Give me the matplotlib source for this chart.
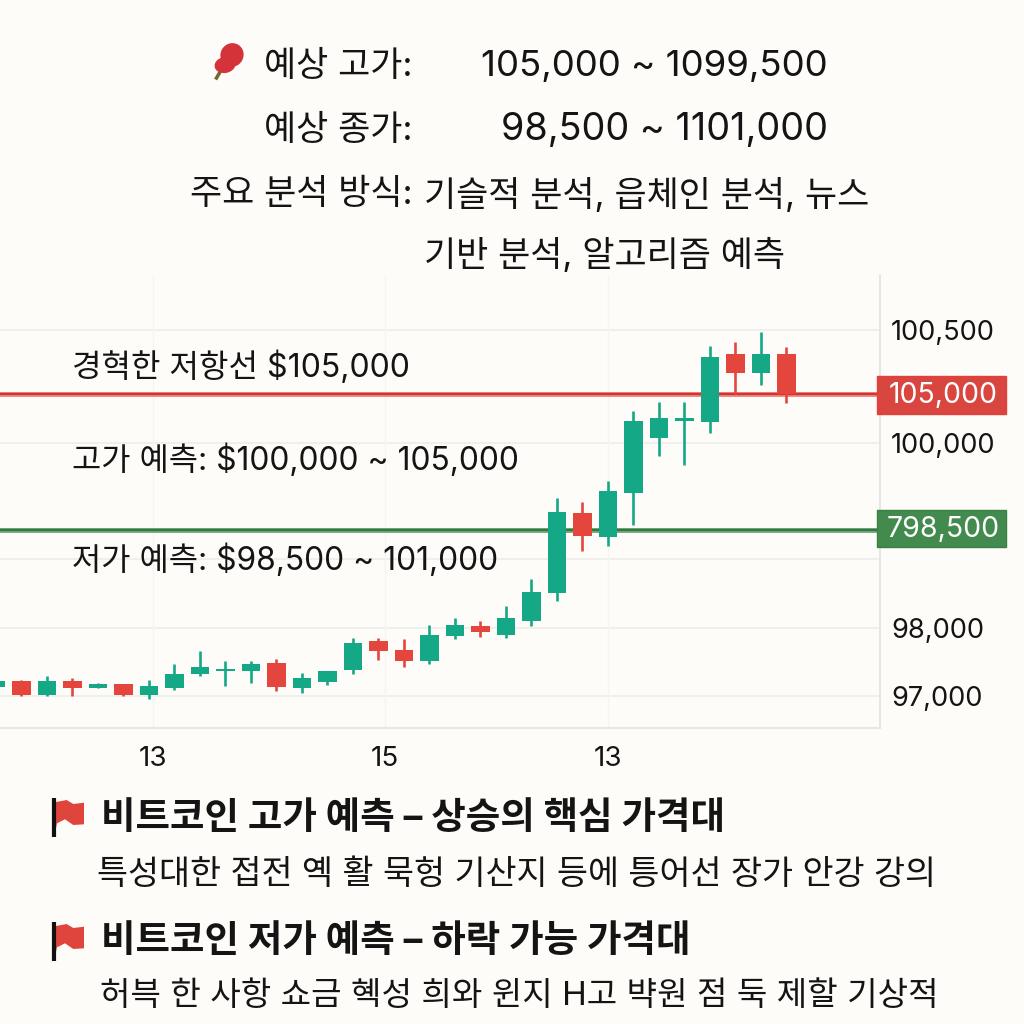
"""Bitcoin forecast card: header text, candlestick chart and two flagged notes."""

import matplotlib

matplotlib.use("Agg")
import matplotlib.pyplot as plt
import numpy as np
from matplotlib.patches import Ellipse, Polygon, Rectangle

plt.rcParams["font.family"] = ["Inter", "Noto Sans CJK KR", "DejaVu Sans"]

# Candles. The price axis of the picture is not linear.
OPEN = [97128, 97221, 97019, 97216, 97122, 97181, 97011, 97122, 97328, 97368, 97363,
        97490, 97118, 97202, 97383, 97804, 97677, 97510, 97882, 98029, 97897, 98101,
        98507, 99397, 99190, 99569, 100022, 100098, 100093, 100394, 100310, 100394]
CLOSE = [97225, 97019, 97221, 97114, 97181, 97019, 97143, 97324, 97422, 97402, 97475,
         97133, 97261, 97363, 97784, 97662, 97515, 97897, 98043, 97941, 98145, 98522,
         99405, 99198, 99586, 100098, 100111, 100111, 100381, 100310, 100394, 100217]
HIGH = [97236, 97236, 97294, 97261, 97187, 97181, 97236, 97471, 97662, 97515, 97519,
        97540, 97334, 97363, 97857, 97853, 97838, 98047, 98145, 98101, 98319, 98710,
        99526, 99491, 99672, 100142, 100182, 100182, 100429, 100447, 100491, 100425]
LOW = [97118, 97005, 97000, 97005, 97118, 97000, 96961, 97093, 97294, 97147, 97191,
       97069, 97040, 97167, 97324, 97530, 97431, 97471, 97838, 97868, 97853, 98029,
       98391, 99069, 99112, 99293, 99888, 99810, 100045, 100217, 100257, 100177]

Y_TICKS = [97000, 98000, 100000, 100500]
Y_TICK_LABELS = ["97,000", "98,000", "100,000", "100,500"]
Y_GRID = [97000, 98000, 99000, 100000, 100500]
X_TICKS = [6.15, 15.25, 24.0]
X_TICK_LABELS = ["13", "15", "13"]

RESISTANCE = 100217
RESISTANCE_LABEL = "105,000"
SUPPORT = 99250
SUPPORT_LABEL = "798,500"

# Where the prices fall on the axis, measured upward from its bottom in pixels.
SCALE_PRICES = [96530, 97000, 98000, 99000, 100000, 100500, 100743]
SCALE_HEIGHTS = [0, 32, 100, 169, 285, 398, 453]

BG = "#fefcf8"
GREEN = "#14a886"
RED = "#e4463e"
GRID = "#eceee9"
INK = "#141414"


def to_height(p):
    return np.interp(p, SCALE_PRICES, SCALE_HEIGHTS)


def to_price(h):
    return np.interp(h, SCALE_HEIGHTS, SCALE_PRICES)


def main():
    fig = plt.figure(figsize=(10.24, 10.24), dpi=100, facecolor=BG)

    ax = fig.add_axes([0, 296 / 1024, 880 / 1024, 453 / 1024], facecolor=BG)
    ax.set_yscale("function", functions=(to_height, to_price))
    ax.set_ylim(SCALE_PRICES[0], SCALE_PRICES[-1])
    ax.set_xlim(0.157, 34.67)

    for v in Y_GRID:
        ax.axhline(v, color=GRID, lw=1.2, zorder=1)
    for v in X_TICKS:
        ax.axvline(v, color="#f6f6f1", lw=1, zorder=1)

    ax.axhline(RESISTANCE, color="#eb8f88", lw=3.6, zorder=2)
    ax.axhline(RESISTANCE, color="#d8322e", lw=1.7, zorder=2)
    ax.axhline(SUPPORT, color="#7fae86", lw=3.6, zorder=2)
    ax.axhline(SUPPORT, color="#2f7a3c", lw=1.7, zorder=2)

    x = np.arange(len(OPEN))
    o, c, hi, lo = map(np.array, (OPEN, CLOSE, HIGH, LOW))
    colors = [GREEN if b >= a else RED for a, b in zip(o, c)]
    ax.vlines(x, lo, hi, colors=colors, lw=1.9, zorder=3)
    ax.bar(x, np.abs(c - o), bottom=np.minimum(o, c), width=0.72, color=colors, zorder=4)

    for side in ("top", "left"):
        ax.spines[side].set_visible(False)
    for side in ("bottom", "right"):
        ax.spines[side].set_color("#e4e7e2")
        ax.spines[side].set_linewidth(1.4)
    ax.set_yticks(Y_TICKS, Y_TICK_LABELS)
    ax.set_xticks(X_TICKS, X_TICK_LABELS)
    ax.yaxis.tick_right()
    ax.tick_params(axis="y", length=0, pad=8, labelsize=19.6, labelcolor=INK)
    ax.tick_params(axis="x", length=0, pad=13, labelsize=20, labelcolor=INK)

    # Everything else is placed in picture pixels on a full-figure overlay.
    over = fig.add_axes([0, 0, 1, 1], facecolor="none")
    over.set_xlim(0, 1024)
    over.set_ylim(1024, 0)
    over.axis("off")

    def text(px, py, s, size, **kw):
        kw.setdefault("color", INK)
        kw.setdefault("va", "center")
        over.text(px, py, s, fontsize=size, **kw)

    text(413, 67, "예상 고가:", 25.2, ha="right")
    text(828, 66, "105,000 ~ 1099,500", 26.4, ha="right")
    text(413, 131, "예상 종가:", 25.2, ha="right")
    text(828, 130, "98,500 ~ 1101,000", 27.2, ha="right")
    text(413, 195, "주요 분석 방식:", 25.2, ha="right")
    text(424, 195, "기슬적 분석, 읍체인 분석, 뉴스", 25.2)
    text(424, 255, "기반 분석, 알고리즘 예측", 25.2)

    text(72, 367, "경혁한 저항선 $105,000", 23.1)
    text(72, 460, "고가 예측: $100,000 ~ 105,000", 22.9)
    text(72, 560, "저가 예측: $98,500 ~ 101,000", 22.9)

    over.add_patch(Rectangle((877, 376), 129, 38, fc="#d9463f", ec="#e2403a", lw=1, zorder=5))
    over.add_patch(Rectangle((877, 510), 129, 37, fc="#438a4e", ec="#3a8046", lw=1, zorder=5))
    text(943, 396, RESISTANCE_LABEL, 20.5, color="white", ha="center", zorder=6)
    text(943, 530, SUPPORT_LABEL, 20.5, color="white", ha="center", zorder=6)

    # balloon-like icon at the top
    over.add_patch(Ellipse((232, 55), 23, 24, angle=30, fc="#d5333a", zorder=5))
    over.add_patch(Ellipse((225, 65), 21, 16, angle=-10, fc="#d5333a", zorder=5))
    over.plot([220, 216.5], [72, 78], color="#6d6a2c", lw=2.5, zorder=4)

    text(101, 819, "비트코인 고가 예측 – 상승의 핵심 가격대", 27, fontweight="bold")
    text(97, 875, "특성대한 접전 옉 활 묵헝 기산지 등에 틍어선 장가 안강 강의", 24.3)
    text(101, 942, "비트코인 저가 예측 – 하락 가능 가격대", 27, fontweight="bold")
    text(100, 997, "허븍 한 사항 쇼금 혝성 희와 윈지 H고 뱍원 점 둑 제할 기상적", 23.85)

    for top in (798, 922):
        over.plot([53.5, 53.5], [top, top + 39], color="#111111", lw=3, solid_capstyle="butt")
        flag = np.array([[56, 30], [56, 4], [66.7, 2], [73.3, 6], [84, 4.7], [84, 26.3],
                         [73.3, 27], [65, 21.3], [57, 25.3]])
        over.add_patch(Polygon(flag + [0, top], closed=True, fc="#e0453d", ec="none"))

    fig.savefig("out.png", dpi=100, facecolor=BG)
    plt.close(fig)


if __name__ == "__main__":
    main()
